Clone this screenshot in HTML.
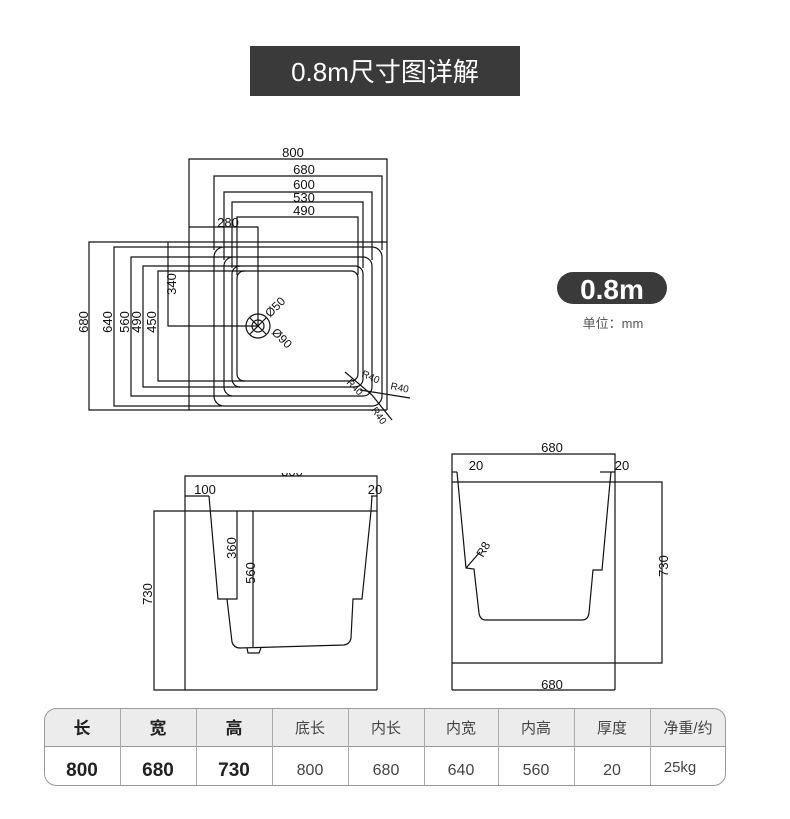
<!DOCTYPE html>
<html><head><meta charset="utf-8"><style>
body{margin:0;background:#fff;}
svg{display:block;font-family:"Liberation Sans","Noto Sans CJK SC",sans-serif;}
</style></head><body>
<svg width="790" height="819" viewBox="0 0 790 819" xmlns="http://www.w3.org/2000/svg">
<rect x="250" y="46" width="270" height="50" fill="#3a3a3a"/>
<text x="385" y="81" fill="#fff" font-size="26" text-anchor="middle" font-family="Liberation Sans,Noto Sans CJK SC,sans-serif">0.8m尺寸图详解</text>

<rect x="557" y="272" width="110" height="32" rx="16" fill="#3a3a3a"/>
<text x="612" y="299" fill="#fff" font-size="28" font-weight="bold" text-anchor="middle">0.8m</text>
<text x="613" y="328" fill="#555" font-size="13" text-anchor="middle">单位：mm</text>

<g fill="none" stroke="#111" stroke-width="1.2">
<polyline points="189,410 189,159 387,159 387,410"/>
<polyline points="214,250 214,176 382,176 382,250"/>
<polyline points="224,260 224,192 372,192 372,260"/>
<polyline points="232,268 232,202 363,202 363,268"/>
<polyline points="237,275 237,217 358,217 358,275"/>
<polyline points="189,227 258,227 258,326"/>
<polyline points="387,242 89,242 89,410 387,410"/>
<polyline points="222,247 114,247 114,406 222,406"/>
<polyline points="232,257 131,257 131,396 232,396"/>
<polyline points="240,266 143,266 143,387 240,387"/>
<polyline points="245,271 158,271 158,381 245,381"/>
<polyline points="168,242 168,326 258,326"/>
<rect x="214" y="247" width="168" height="159" rx="10"/>
<rect x="224" y="257" width="148" height="139" rx="9"/>
<rect x="232" y="266" width="131" height="121" rx="8"/>
<rect x="237" y="271" width="121" height="110" rx="7"/>
<circle cx="258" cy="326" r="12"/><circle cx="258" cy="326" r="6"/>
<line x1="250" y1="334" x2="266" y2="318"/><line x1="250" y1="318" x2="266" y2="334"/>
<line x1="345" y1="372" x2="372" y2="395"/>
<line x1="360" y1="390" x2="410" y2="398"/>
<line x1="372" y1="395" x2="392" y2="420"/>
<polyline points="185,690 185,476 377,476 377,690"/>
<polyline points="185,511 154,511 154,690 377,690"/>
<line x1="185" y1="511" x2="377" y2="511"/>
<polyline points="185,496 209,496"/>
<polyline points="371,496 377,496"/>
<path d="M209,496 L218,599 L237,599 L237,511 M227,599 L232,642 Q234,648 240,648 L344,645 Q350,644 351,638 L353,599 L362,599 L371,511 L372,496"/>
<line x1="253" y1="511" x2="253" y2="648"/>
<path d="M247,648 L248,653 L259,653 L261,648"/>
<polyline points="452,690 452,454 615,454 615,690"/>
<polyline points="452,482 662,482 662,663 452,663"/>
<line x1="452" y1="690" x2="615" y2="690"/>
<line x1="452" y1="472" x2="457" y2="472"/>
<line x1="600" y1="472" x2="615" y2="472"/>
<path d="M457,472 L466,568 L474,569 L479,613 Q480,620 486,620 L582,620 Q588,620 589,613 L593,570 L602,570 L610,482 L611,472"/>
<line x1="466" y1="568" x2="480" y2="552"/>
</g>
<g font-size="13" fill="#111">
<text x="293" y="157" text-anchor="middle">800</text>
<text x="304" y="174" text-anchor="middle">680</text>
<text x="304" y="189" text-anchor="middle">600</text>
<text x="304" y="202" text-anchor="middle">530</text>
<text x="304" y="215" text-anchor="middle">490</text>
<text x="228" y="227" text-anchor="middle">280</text>
<text transform="translate(88,322) rotate(-90)" text-anchor="middle">680</text>
<text transform="translate(112,322) rotate(-90)" text-anchor="middle">640</text>
<text transform="translate(129,322) rotate(-90)" text-anchor="middle">560</text>
<text transform="translate(141,322) rotate(-90)" text-anchor="middle">490</text>
<text transform="translate(156,322) rotate(-90)" text-anchor="middle">450</text>
<text transform="translate(176,284) rotate(-90)" text-anchor="middle">340</text>
<text transform="translate(270,318) rotate(-45)" font-size="12">Ø50</text>
<text transform="translate(271,333) rotate(45)" font-size="12">Ø90</text>
<text transform="translate(361,376) rotate(25)" font-size="10">R40</text>
<text x="390" y="389" font-size="10" transform="rotate(12 390 389)">R40</text>
<text transform="translate(346,383) rotate(45)" font-size="10">R40</text>
<text transform="translate(371,410) rotate(55)" font-size="10">R40</text>
<text x="292" y="476" text-anchor="middle">800</text>
<text x="205" y="494" text-anchor="middle">100</text>
<text x="375" y="494" text-anchor="middle">20</text>
<text transform="translate(236,548) rotate(-90)" text-anchor="middle">360</text>
<text transform="translate(255,573) rotate(-90)" text-anchor="middle">560</text>
<text transform="translate(152,594) rotate(-90)" text-anchor="middle">730</text>
<text x="552" y="452" text-anchor="middle">680</text>
<text x="476" y="470" text-anchor="middle">20</text>
<text x="622" y="470" text-anchor="middle">20</text>
<text transform="translate(483,558) rotate(-60)" font-size="12">R8</text>
<text transform="translate(668,566) rotate(-90)" text-anchor="middle">730</text>
<text x="552" y="689" text-anchor="middle">680</text>
</g>
<rect x="180" y="452" width="220" height="21" fill="#fff"/>

<path d="M44.5,746 L44.5,720 Q44.5,708.5 57,708.5 L713,708.5 Q725.5,708.5 725.5,720 L725.5,746 Z" fill="#ececec"/>
<rect x="44.5" y="708.5" width="681" height="77" rx="12" fill="none" stroke="#999"/>
<line x1="44" y1="746.5" x2="726" y2="746.5" stroke="#999"/>
<g stroke="#aaa">
<line x1="120.5" y1="709" x2="120.5" y2="785"/><line x1="196.5" y1="709" x2="196.5" y2="785"/>
<line x1="272.5" y1="709" x2="272.5" y2="785"/><line x1="348.5" y1="709" x2="348.5" y2="785"/>
<line x1="424.5" y1="709" x2="424.5" y2="785"/><line x1="498.5" y1="709" x2="498.5" y2="785"/>
<line x1="574.5" y1="709" x2="574.5" y2="785"/><line x1="650.5" y1="709" x2="650.5" y2="785"/>
</g>
<g text-anchor="middle" font-size="17" font-weight="bold" fill="#222">
<text x="82" y="734">长</text><text x="158" y="734">宽</text><text x="234" y="734">高</text>
<text x="82" y="776" font-size="19">800</text><text x="158" y="776" font-size="19">680</text><text x="234" y="776" font-size="19">730</text>
</g>
<g text-anchor="middle" font-size="15" fill="#444">
<text x="310" y="733">底长</text><text x="386" y="733">内长</text><text x="461" y="733">内宽</text>
<text x="536" y="733">内高</text><text x="612" y="733">厚度</text><text x="688" y="733">净重/约</text>
<text x="310" y="775" font-size="16">800</text><text x="386" y="775" font-size="16">680</text><text x="461" y="775" font-size="16">640</text>
<text x="536" y="775" font-size="16">560</text><text x="612" y="775" font-size="16">20</text><text x="680" y="772">25kg</text>
</g>
</svg>
</body></html>
